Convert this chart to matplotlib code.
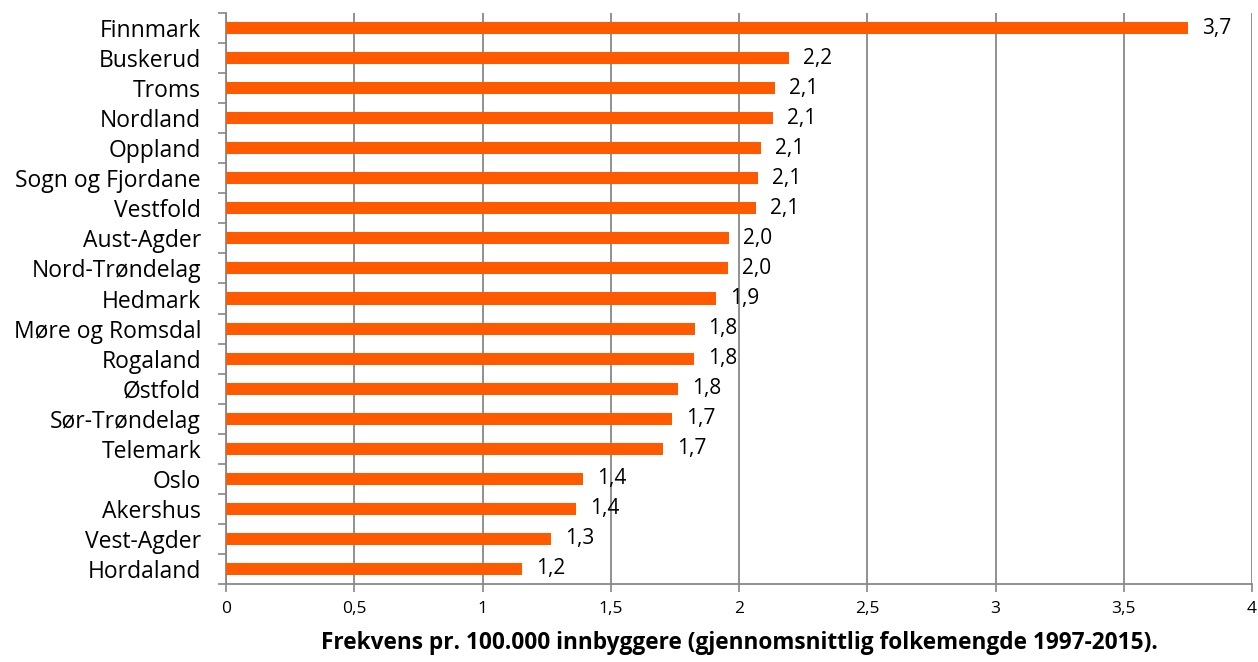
import matplotlib
matplotlib.use("Agg")
import matplotlib.pyplot as plt
import numpy as np

# counties, top to bottom as shown
counties = ["Finnmark", "Buskerud", "Troms", "Nordland", "Oppland",
            "Sogn og Fjordane", "Vestfold", "Aust-Agder", "Nord-Trøndelag",
            "Hedmark", "Møre og Romsdal", "Rogaland", "Østfold",
            "Sør-Trøndelag", "Telemark", "Oslo", "Akershus", "Vest-Agder",
            "Hordaland"]
freq = [3.75, 2.195, 2.14, 2.134, 2.087, 2.076, 2.067, 1.961, 1.957,
        1.91, 1.827, 1.825, 1.763, 1.74, 1.704, 1.393, 1.365, 1.267, 1.155]
freq_labels = ["3,7", "2,2", "2,1", "2,1", "2,1", "2,1", "2,1", "2,0", "2,0",
               "1,9", "1,8", "1,8", "1,8", "1,7", "1,7", "1,4", "1,4", "1,3",
               "1,2"]
xticks = [0, 0.5, 1, 1.5, 2, 2.5, 3, 3.5, 4]
xtick_labels = ["0", "0,5", "1", "1,5", "2", "2,5", "3", "3,5", "4"]

plt.rcParams["font.family"] = ["Open Sans", "DejaVu Sans"]

fig = plt.figure(figsize=(12.58, 6.62), dpi=100)
ax = fig.add_axes([226 / 1258, 1 - 584 / 662, (1252 - 226) / 1258, (584 - 13) / 662])

y = np.arange(len(counties))[::-1]
bars = ax.barh(y, freq, height=0.4, color="#ff5a00", zorder=3)
ax.bar_label(bars, labels=freq_labels, padding=10, fontsize=15)

ax.set_xlim(0, 4)
ax.set_ylim(-0.5, len(counties) - 0.5)
ax.set_xticks(xticks)
ax.set_xticklabels(xtick_labels, fontsize=12.5)
ax.set_yticks(y)
ax.set_yticklabels(counties, fontsize=16.5)
ax.set_yticks(np.arange(len(counties) + 1) - 0.5, minor=True)
ax.tick_params(axis="y", which="major", length=0, pad=18)
ax.tick_params(axis="y", which="minor", length=6, color="#888888", width=1.2)
ax.tick_params(axis="x", length=6, color="#888888", width=1.2, pad=6)

ax.grid(axis="x", color="#888888", linewidth=1.3, zorder=0)
for s in ["top", "right"]:
    ax.spines[s].set_visible(False)
for s in ["left", "bottom"]:
    ax.spines[s].set_color("#888888")
    ax.spines[s].set_linewidth(1.3)

ax.set_xlabel("Frekvens pr. 100.000 innbyggere (gjennomsnittlig folkemengde 1997-2015).",
              fontsize=16.3, fontweight="bold", labelpad=10)

fig.savefig("out.png", dpi=100)
